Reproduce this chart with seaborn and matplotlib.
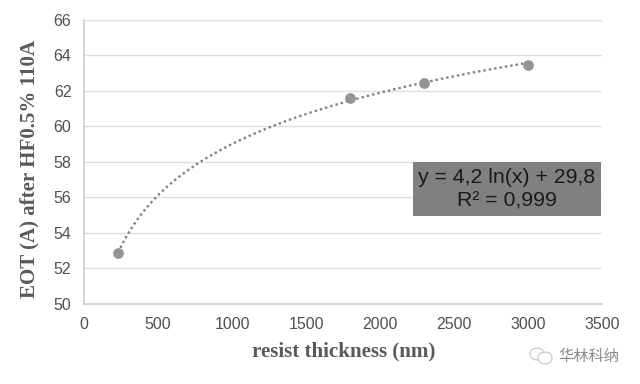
import seaborn as sns
import matplotlib.pyplot as plt
from matplotlib.patches import Ellipse

# values
thickness = [230, 1800, 2300, 3000]
eot = [52.85, 61.6, 62.45, 63.45]
x_ticks = [0, 500, 1000, 1500, 2000, 2500, 3000, 3500]
y_ticks = [50, 52, 54, 56, 58, 60, 62, 64, 66]

sns.set_theme(style='white')
plt.rcParams['font.family'] = ['Liberation Sans', 'Noto Sans CJK SC']

fig = plt.figure(figsize=(6.4, 3.84), dpi=100)
ax = fig.add_axes([84 / 640, 1 - 304 / 384, 518 / 640, 284.5 / 384])

# log trendline comes from the regression, like the excel one
sns.regplot(x=thickness, y=eot, logx=True, ci=None, ax=ax,
            scatter_kws={'s': 60, 'color': '#949494', 'alpha': 1, 'linewidths': 0, 'zorder': 3},
            line_kws={'color': '#808080', 'lw': 1.7, 'ls': (0, (1, 1.3)), 'zorder': 2})

ax.set_xlim(0, 3500)
ax.set_ylim(50, 66)
ax.set_xticks(x_ticks)
ax.set_yticks(y_ticks)
ax.grid(axis='y', color='#e0e0e0', lw=1)
ax.set_axisbelow(True)
ax.tick_params(axis='both', length=0, labelsize=11.5, labelcolor='#505050')
ax.tick_params(axis='x', pad=9.5)
ax.tick_params(axis='y', pad=9)
for side in ['top', 'right']:
    ax.spines[side].set_visible(False)
for side in ['left', 'bottom']:
    ax.spines[side].set_color('#cfcfcf')
    ax.spines[side].set_linewidth(1.2)

label_font = dict(family='Liberation Serif', fontweight='bold', color='#595959', fontsize=15.1)
fig.text(343.5 / 640, 1 - 351 / 384, 'resist thickness (nm)', ha='center', va='center', **label_font)
fig.text(29 / 640, 1 - 168.5 / 384, 'EOT (A) after HF0.5% 110A', rotation=90, ha='center', va='center', **label_font)

# equation box
ax.add_patch(plt.Rectangle((413 / 640, 1 - 216 / 384), 188 / 640, 54 / 384, transform=fig.transFigure,
                           fc='#808080', ec='none', zorder=4, clip_on=False))
fig.text(507 / 640, 1 - 189 / 384, 'y = 4,2 ln(x) + 29,8\nR² = 0,999', ha='center', va='center',
         fontsize=15.3, color='#1a1a1a', linespacing=1.3)

# watermark
icon = fig.add_axes([0, 0, 1, 1], facecolor='none')
icon.set_axis_off()
icon.set_xlim(0, 640)
icon.set_ylim(384, 0)
icon.add_patch(Ellipse((537, 354), 14, 12, fc='white', ec='#c4c4c4', lw=0.8))
icon.add_patch(Ellipse((545, 358), 14, 12, fc='white', ec='#c4c4c4', lw=0.8))
icon.text(589, 356, '华林科纳', ha='center', va='center', fontsize=11, color='#8a8a8a',
          family=['Noto Sans CJK SC', 'DejaVu Sans'])

fig.savefig('out.png', dpi=100)
